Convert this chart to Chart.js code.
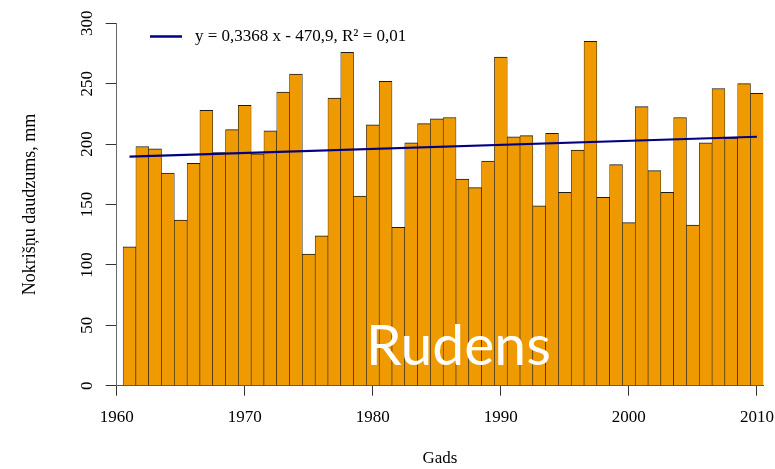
<!DOCTYPE html>
<html>
<head>
<meta charset="utf-8">
<title>Rudens</title>
<script src="https://cdn.jsdelivr.net/npm/chart.js@4.4.0/dist/chart.umd.min.js"></script>
<style>
    html, body { margin: 0; padding: 0; background: #fff; }
    #wrap { position: relative; width: 775px; height: 469px; }
</style>
</head>
<body>
<div id="wrap"><canvas id="rudensChart"></canvas></div>
<script>
// Gadi (kategorijas)
const years = [
    1961, 1962, 1963, 1964, 1965, 1966, 1967, 1968, 1969, 1970,
    1971, 1972, 1973, 1974, 1975, 1976, 1977, 1978, 1979, 1980,
    1981, 1982, 1983, 1984, 1985, 1986, 1987, 1988, 1989, 1990,
    1991, 1992, 1993, 1994, 1995, 1996, 1997, 1998, 1999, 2000,
    2001, 2002, 2003, 2004, 2005, 2006, 2007, 2008, 2009, 2010
];

// Rudens nokrišņu summa, mm
const precipitation = [
    115, 198, 196, 176, 137, 184, 228, 193, 212, 232,
    192, 211, 243, 258, 109, 124, 238, 276, 157, 216,
    252, 131, 201, 217, 221, 222, 171, 164, 186, 272,
    206, 207, 149, 209, 160, 195, 285, 156, 183, 135,
    231, 178, 160, 222, 133, 201, 246, 205, 250, 242
];

// Lineārā trenda galapunkti
const trendYears = [1961, 2010];
const trendValues = [189.6, 206.1];

// Asu iedaļas
const xTicks = [1960, 1970, 1980, 1990, 2000, 2010];
const yTicks = [0, 50, 100, 150, 200, 250, 300];

const trendLabel = 'y = 0,3368 x - 470,9, R² = 0,01';
const seasonLabel = 'Rudens';
const xTitle = 'Gads';
const yTitle = 'Nokrišņu daudzums, mm';

const barColor = '#EE9A00';
const trendColor = '#000080';
const serif = "'Liberation Serif', 'Times New Roman', serif";

Chart.defaults.font.family = serif;
Chart.defaults.font.size = 17;
Chart.defaults.color = '#000';

// Leģenda un sezonas uzraksts
const overlayPlugin = {
    id: 'overlay',
    afterDatasetsDraw(chart) {
        const ctx = chart.ctx;
        ctx.save();
        ctx.strokeStyle = trendColor;
        ctx.lineWidth = 2.5;
        ctx.beginPath();
        ctx.moveTo(150, 36.5);
        ctx.lineTo(182, 36.5);
        ctx.stroke();

        ctx.fillStyle = '#000';
        ctx.font = '17px ' + serif;
        ctx.textBaseline = 'middle';
        ctx.textAlign = 'left';
        ctx.fillText(trendLabel, 195, 37);

        ctx.fillStyle = '#fff';
        ctx.font = '57px Lato, "Open Sans", sans-serif';
        ctx.textBaseline = 'alphabetic';
        ctx.fillText(seasonLabel, 366, 365);
        ctx.restore();
    }
};

const ctx = document.getElementById('rudensChart').getContext('2d');

const rudensChart = new Chart(ctx, {
    type: 'bar',
    data: {
        datasets: [
            {
                type: 'line',
                label: trendLabel,
                data: trendYears.map((yr, i) => ({ x: yr, y: trendValues[i] })),
                borderColor: trendColor,
                borderWidth: 2.2,
                pointRadius: 0,
                fill: false,
                order: 0
            },
            {
                label: seasonLabel,
                data: years.map((yr, i) => ({ x: yr, y: precipitation[i] })),
                backgroundColor: barColor,
                borderColor: '#1a1a1a',
                borderWidth: { top: 1, left: 0.6, right: 0.6, bottom: 0 },
                barPercentage: 1,
                categoryPercentage: 1,
                order: 1
            }
        ]
    },
    options: {
        responsive: true,
        maintainAspectRatio: false,
        animation: false,
        layout: {
            padding: { left: 0, right: 11.7, top: 23.3, bottom: 0 }
        },
        plugins: {
            legend: { display: false },
            tooltip: { enabled: false }
        },
        scales: {
            x: {
                type: 'linear',
                min: 1960,
                max: 2010.5,
                offset: false,
                afterBuildTicks: function(scale) {
                    scale.ticks = xTicks.map(v => ({ value: v }));
                },
                afterFit: function(scale) {
                    scale.height = 83.3;
                    // nelaujam etiķetei "2010" saspiest zīmēšanas laukumu
                    scale.paddingRight = 0;
                    scale.paddingLeft = 0;
                },
                grid: {
                    offset: false,
                    drawOnChartArea: false,
                    tickLength: 10,
                    tickColor: '#333'
                },
                border: { color: '#555', width: 1 },
                ticks: {
                    padding: 12,
                    maxRotation: 0,
                    autoSkip: false,
                    callback: function(value) {
                        return String(value);
                    }
                },
                title: {
                    display: true,
                    text: xTitle,
                    padding: { top: 0, bottom: 0 }
                }
            },
            y: {
                min: 0,
                max: 300,
                afterBuildTicks: function(scale) {
                    scale.ticks = yTicks.map(v => ({ value: v }));
                },
                afterFit: function(scale) {
                    scale.width = 116.7;
                },
                grid: {
                    drawOnChartArea: false,
                    tickLength: 11,
                    tickColor: '#333'
                },
                border: { color: '#666', width: 1 },
                ticks: {
                    minRotation: 90,
                    maxRotation: 90,
                    crossAlign: 'center',
                    padding: 5,
                    callback: function(value) {
                        return String(value);
                    }
                },
                title: {
                    display: true,
                    text: yTitle,
                    font: { size: 18 },
                    padding: { top: 19, bottom: 0 }
                }
            }
        }
    },
    plugins: [overlayPlugin]
});
</script>
</body>
</html>
